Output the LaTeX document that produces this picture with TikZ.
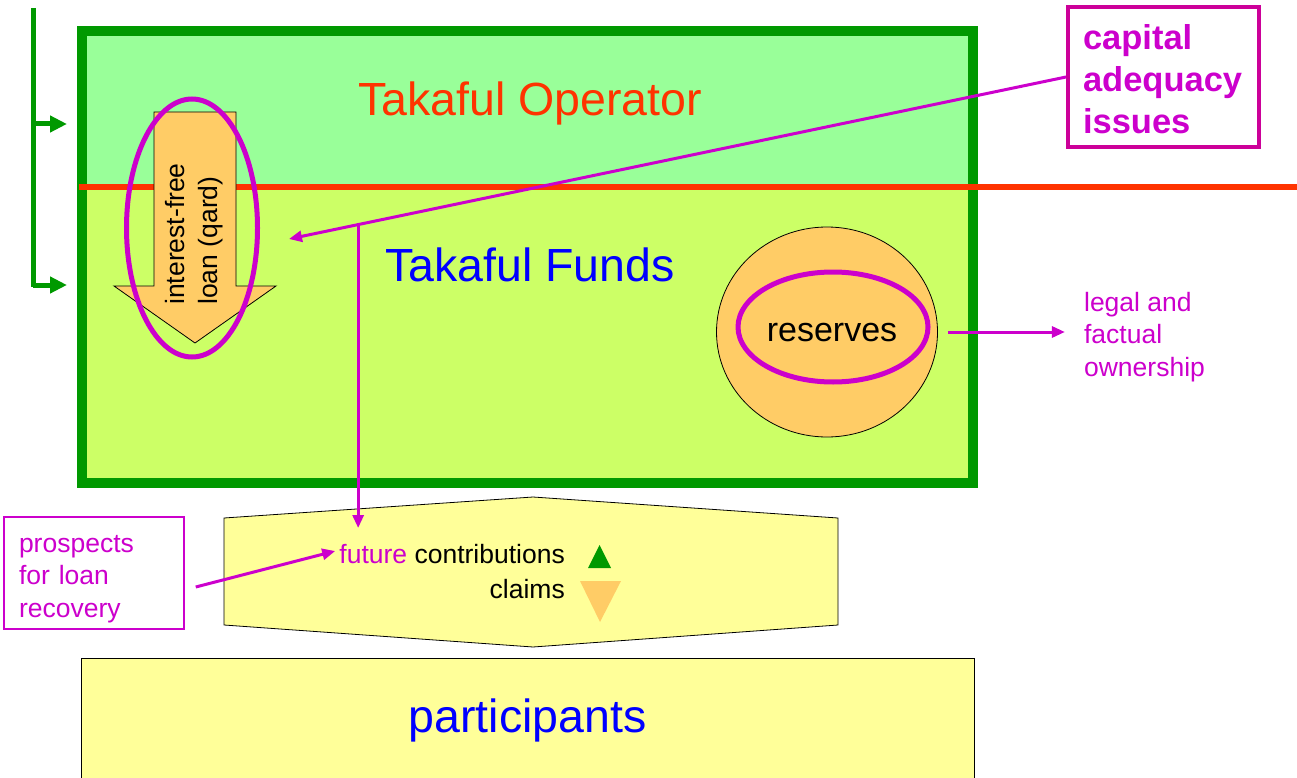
\documentclass[tikz,border=0pt]{standalone}
\usepackage{fontspec}
\setmainfont{Liberation Sans}
\usetikzlibrary{arrows.meta,positioning,shapes.geometric}
\definecolor{opgreen}{HTML}{99FF99}
\definecolor{fundgreen}{HTML}{CCFF66}
\definecolor{darkgreen}{HTML}{009900}
\definecolor{opred}{HTML}{FF3300}
\definecolor{magen}{HTML}{CC00CC}
\definecolor{boxmag}{HTML}{CC0099}
\definecolor{loanorange}{HTML}{FFCC66}
\definecolor{paleyellow}{HTML}{FFFF99}

\begin{document}
\begin{tikzpicture}[
  x=1pt, y=-1pt,
  feedline/.style={draw=darkgreen, line width=5pt},
  feed/.style={feedline, -{Triangle[length=17pt,width=16pt]}},
  note/.style={draw=magen, line width=3pt, -{Triangle[length=13pt,width=11pt]}},
  ring/.style={draw=magen, line width=5pt, ellipse, inner sep=0pt},
  headtxt/.style={font=\fontsize{46.5}{52}\selectfont, inner sep=0pt},
  smalltxt/.style={font=\fontsize{26.5}{32.5}\selectfont, inner sep=0pt, align=left},
  outline/.style={draw=black, line width=0.8pt}
]
\useasboundingbox (0,0) rectangle (1297,778);

\fill[opgreen] (82,31) rectangle (973,187);
\fill[fundgreen] (82,187) rectangle (973,483);
\draw[darkgreen, line width=10pt] (82,31) rectangle (973,483);
\draw[opred, line width=5pt] (79,187) -- (1297,187);

\node[headtxt, text=opred] (operator) at (530,103) {Takaful Operator};
\node[headtxt, text=blue] (funds) at (530,265) {Takaful Funds};

\coordinate (feedtop) at (33,8);
\coordinate (feedbot) at (33,287);
\coordinate (opin) at (67,124);
\coordinate (fundin) at (67,285);
\draw[feedline] (feedtop) -- (feedbot);
\draw[feed] (feedtop |- opin) -- (opin);
\draw[feed] (feedtop |- fundin) -- (fundin);

\filldraw[fill=loanorange, outline] (154,112) -- (236,112) -- (236,286) -- (276,286)
  -- (195,343) -- (114,286) -- (154,286) -- cycle;
\node[smalltxt, rotate=90] (qard) at (194,234) {interest-free\\loan (qard)};
\node[ring, minimum width=131pt, minimum height=258pt] (qardring) at (192,228) {};

\node[ellipse, fill=loanorange, outline, minimum width=221pt, minimum height=210pt, inner sep=0pt] (pool) at (827,332) {};
\node[ring, minimum width=190pt, minimum height=110pt] (poolring) at (833,327) {};
\node[font=\fontsize{34}{40}\selectfont, inner sep=0pt] (reserves) at (832,333) {reserves};

\draw[note] ([xshift=10pt]pool.east) -- ++(117,0) coordinate (owntip);
\node[smalltxt, text=magen, right=19pt of owntip, yshift=-5pt] (ownership) {legal and\\factual\\ownership};

\filldraw[fill=paleyellow, outline] (224,518) -- (533,497) -- (838,518) -- (838,625)
  -- (533,647) -- (224,625) -- cycle;
\coordinate (hexin) at (358,528);
\node[smalltxt, anchor=east] (contrib) at (565,554) {\textcolor{magen}{future} contributions};
\node[smalltxt, anchor=east] (claims) at (565,589) {claims};
\fill[darkgreen] (588,568) -- (611,568) -- (599.5,545) -- cycle;
\fill[loanorange] (580,581) -- (621,581) -- (600,622) -- cycle;

\node[outline, fill=paleyellow, headtxt, text=blue, minimum width=893pt, minimum height=125pt] (participants) at (527.5,720.5) {participants};

\node[smalltxt, draw=magen, line width=1.5pt, text=magen, text width=150pt, inner xsep=15pt, minimum height=112pt] (prospects) at (94,573) {\rule{0pt}{29pt}prospects\\for loan\\recovery};
\draw[note] ([xshift=11pt,yshift=-14pt]prospects.east) -- ([xshift=-4pt,yshift=3pt]contrib.west);

\node[draw=boxmag, line width=4pt, text=magen, font=\bfseries\fontsize{34.5}{42}\selectfont, align=left, text width=161pt, inner xsep=15pt, inner ysep=0pt, minimum height=140pt] (capital) at (1163.5,77) {\rule{0pt}{29pt}capital\\adequacy\\issues};
\coordinate (loantip) at (289,239);
\draw[note] (capital.west) -- coordinate[pos=0.911] (split) (loantip);
\draw[note] (split) -- (split |- hexin);

\end{tikzpicture}
\end{document}
